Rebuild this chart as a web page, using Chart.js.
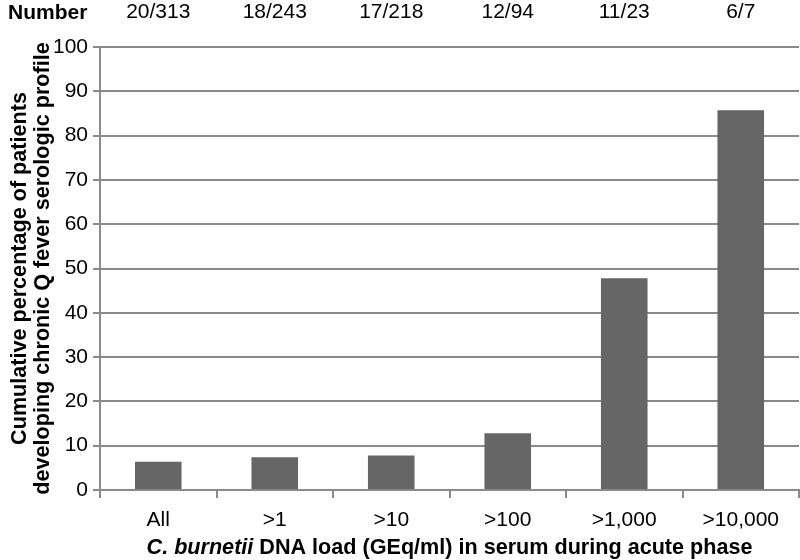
<!DOCTYPE html>
<html>
<head>
<meta charset="utf-8">
<script src="https://cdn.jsdelivr.net/npm/chart.js@4/dist/chart.umd.min.js"></script>
<style>
html,body{margin:0;padding:0;background:#fff;}
#wrap{width:800px;height:560px;}
</style>
</head>
<body>
<div id="wrap"><canvas id="c" width="800" height="560"></canvas></div>
<script>
const categories = ["All", ">1", ">10", ">100", ">1,000", ">10,000"];
const numberLabels = ["20/313", "18/243", "17/218", "12/94", "11/23", "6/7"];
const percentages = [6.4, 7.4, 7.8, 12.8, 47.8, 85.7];
const yTicks = [0, 10, 20, 30, 40, 50, 60, 70, 80, 90, 100];
const xTitleItalic = "C. burnetii";
const xTitleRest = " DNA load (GEq/ml) in serum during acute phase";

const FONT = "'Liberation Sans', Arial, Helvetica, sans-serif";
const GRID = '#8a8a8a';
const FS = 21;
const TFS = 21.6;

const extraTextPlugin = {
  id: 'extraText',
  afterDraw(chart) {
    const ctx = chart.ctx;
    ctx.save();
    ctx.fillStyle = '#000';
    ctx.textBaseline = 'middle';
    ctx.textAlign = 'left';
    ctx.font = 'bold ' + FS + 'px ' + FONT;
    ctx.fillText('Number', 8, 13);
    // x-axis title with italic species name
    const fItal = 'italic bold ' + TFS + 'px ' + FONT;
    const fBold = 'bold ' + TFS + 'px ' + FONT;
    ctx.font = fItal; const w1 = ctx.measureText(xTitleItalic).width;
    ctx.font = fBold; const w2 = ctx.measureText(xTitleRest).width;
    const cx = (chart.chartArea.left + chart.chartArea.right) / 2;
    const sx = cx - (w1 + w2) / 2;
    const ty = 548;
    ctx.font = fItal; ctx.fillText(xTitleItalic, sx, ty);
    ctx.font = fBold; ctx.fillText(xTitleRest, sx + w1, ty);
    ctx.restore();
  }
};

new Chart(document.getElementById('c'), {
  type: 'bar',
  data: {
    labels: categories,
    datasets: [{
      data: percentages,
      backgroundColor: '#666666',
      borderWidth: 0,
      barPercentage: 0.8,
      categoryPercentage: 0.5,
      xAxisID: 'x',
      yAxisID: 'y'
    }]
  },
  options: {
    responsive: false,
    animation: false,
    devicePixelRatio: 1,
    layout: { padding: { left: 8, right: 1, top: 0, bottom: 0 } },
    plugins: { legend: { display: false }, tooltip: { enabled: false } },
    scales: {
      x: {
        type: 'category',
        position: 'bottom',
        offset: true,
        afterFit(axis) { axis.height = 70; },
        grid: { display: true, drawOnChartArea: false, drawTicks: true, tickLength: 8, color: GRID, lineWidth: 2, offset: true },
        border: { display: true, color: GRID, width: 2 },
        ticks: { color: '#000', font: { family: FONT, size: FS }, padding: 10, maxRotation: 0 }
      },
      xTop: {
        type: 'category',
        position: 'top',
        labels: numberLabels,
        offset: true,
        afterFit(axis) { axis.height = 47; },
        grid: { display: false, drawTicks: false },
        border: { display: false },
        ticks: { color: '#000', font: { family: FONT, size: FS }, padding: 22, maxRotation: 0 }
      },
      y: {
        min: 0,
        max: 100,
        afterFit(axis) { axis.width = 92; },
        afterBuildTicks(axis) { axis.ticks = yTicks.map(v => ({ value: v })); },
        grid: { color: GRID, lineWidth: 2, drawTicks: true, tickLength: 7 },
        border: { display: true, color: GRID, width: 2 },
        ticks: { color: '#000', font: { family: FONT, size: FS }, padding: 5 },
        title: {
          display: true,
          text: ['Cumulative percentage of patients', 'developing chronic Q fever serologic profile'],
          color: '#000',
          font: { family: FONT, size: TFS, weight: 'bold', lineHeight: 1.08 },
          padding: { top: 0, bottom: 0 }
        }
      }
    }
  },
  plugins: [extraTextPlugin]
});
</script>
</body>
</html>
